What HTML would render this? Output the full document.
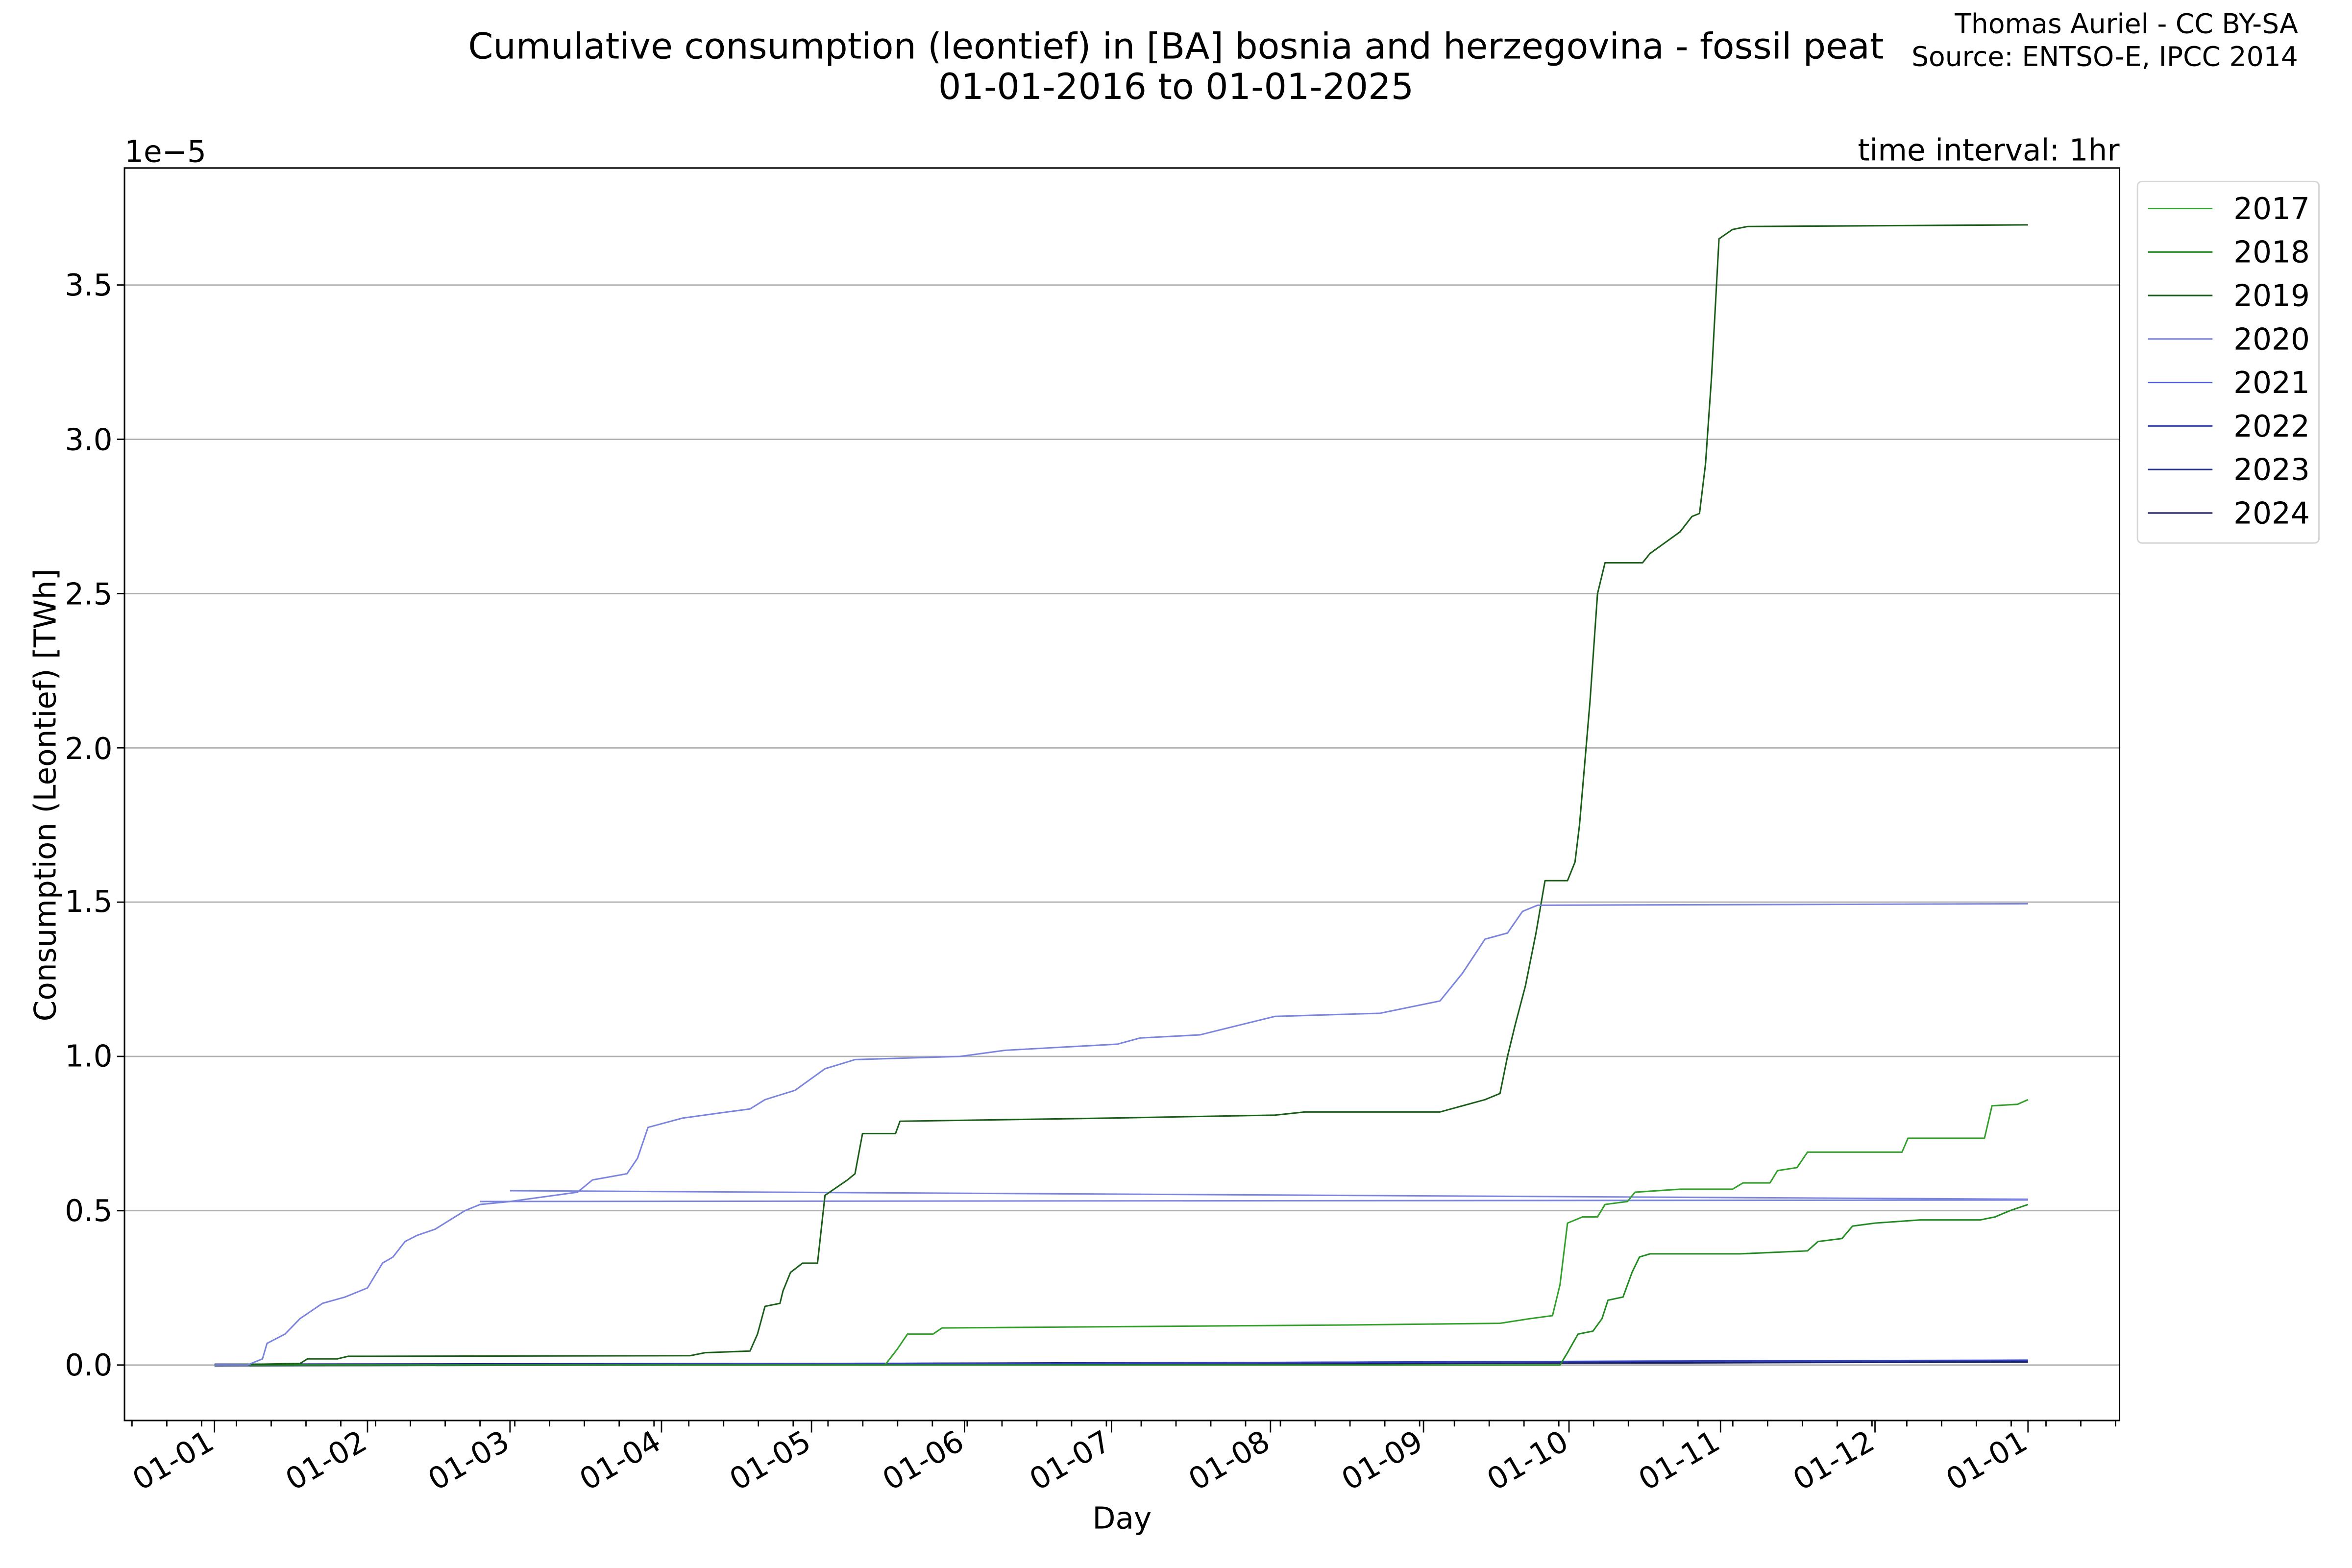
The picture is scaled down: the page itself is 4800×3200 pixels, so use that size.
<!DOCTYPE html>
<html><head><meta charset="utf-8"><style>
html,body{margin:0;padding:0;background:#fff;}
svg{display:block;font-family:"DejaVu Sans","Liberation Sans",sans-serif;}
</style></head><body>
<svg id="s" width="4800" height="3200" viewBox="0 0 1568 1045.33" xmlns="http://www.w3.org/2000/svg">
<rect x="0" y="0" width="1568" height="1046" fill="#fff"/>
<g stroke="#b0b0b0" stroke-width="0.9">
<line x1="83" x2="1413" y1="910" y2="910"/><line x1="83" x2="1413" y1="807.1" y2="807.1"/>
<line x1="83" x2="1413" y1="704.3" y2="704.3"/><line x1="83" x2="1413" y1="601.4" y2="601.4"/>
<line x1="83" x2="1413" y1="498.6" y2="498.6"/><line x1="83" x2="1413" y1="395.7" y2="395.7"/>
<line x1="83" x2="1413" y1="292.9" y2="292.9"/><line x1="83" x2="1413" y1="190" y2="190"/>
</g>
<g id="series" fill="none" stroke-width="1" stroke-linejoin="round"></g>
<rect x="83" y="112" width="1330" height="835" fill="none" stroke="#000" stroke-width="1"/>
<g id="ticks" stroke="#000" stroke-width="0.9"></g>
<g font-size="20" text-anchor="end" fill="#000">
<text x="75" y="917">0.0</text><text x="75" y="814">0.5</text><text x="75" y="711">1.0</text>
<text x="75" y="608">1.5</text><text x="75" y="506">2.0</text><text x="75" y="403">2.5</text>
<text x="75" y="300">3.0</text><text x="75" y="197">3.5</text>
</g>
<g font-size="20" text-anchor="end" fill="#000">
<text transform="translate(144,965) rotate(-30)">01-01</text>
<text transform="translate(246,965) rotate(-30)">01-02</text>
<text transform="translate(341,965) rotate(-30)">01-03</text>
<text transform="translate(442,965) rotate(-30)">01-04</text>
<text transform="translate(542,965) rotate(-30)">01-05</text>
<text transform="translate(644,965) rotate(-30)">01-06</text>
<text transform="translate(742,965) rotate(-30)">01-07</text>
<text transform="translate(848,965) rotate(-30)">01-08</text>
<text transform="translate(950,965) rotate(-30)">01-09</text>
<text transform="translate(1047,965) rotate(-30)">01-10</text>
<text transform="translate(1148,965) rotate(-30)">01-11</text>
<text transform="translate(1251,965) rotate(-30)">01-12</text>
<text transform="translate(1353,965) rotate(-30)">01-01</text>
</g>
<text x="748" y="1019" font-size="20" text-anchor="middle">Day</text>
<text transform="translate(37,530) rotate(-90)" font-size="20" text-anchor="middle">Consumption (Leontief) [TWh]</text>
<text x="83" y="108" font-size="20">1e−5</text>
<text x="1413" y="107" font-size="20" text-anchor="end">time interval: 1hr</text>
<text x="784" y="39" font-size="23.9" text-anchor="middle">Cumulative consumption (leontief) in [BA] bosnia and herzegovina - fossil peat</text>
<text x="784" y="66" font-size="23.9" text-anchor="middle">01-01-2016 to 01-01-2025</text>
<text x="1532" y="22" font-size="18" text-anchor="end">Thomas Auriel - CC BY-SA</text>
<text x="1532" y="44" font-size="18" text-anchor="end">Source: ENTSO-E, IPCC 2014</text>
<rect x="1425" y="121" width="121" height="241" rx="3" fill="#fff" stroke="#d5d5d5" stroke-width="1"/>
<g stroke-width="1">
<line x1="1432" x2="1475" y1="139" y2="139" stroke="#33a02c"/>
<line x1="1432" x2="1475" y1="168" y2="168" stroke="#228b22"/>
<line x1="1432" x2="1475" y1="197" y2="197" stroke="#1a5e1a"/>
<line x1="1432" x2="1475" y1="226" y2="226" stroke="#7b85e0"/>
<line x1="1432" x2="1475" y1="255" y2="255" stroke="#4a58d0"/>
<line x1="1432" x2="1475" y1="284" y2="284" stroke="#3040b8"/>
<line x1="1432" x2="1475" y1="313" y2="313" stroke="#24308a"/>
<line x1="1432" x2="1475" y1="342" y2="342" stroke="#1a2060"/>
</g>
<g font-size="20" fill="#000">
<text x="1489" y="146">2017</text><text x="1489" y="175">2018</text><text x="1489" y="204">2019</text>
<text x="1489" y="233">2020</text><text x="1489" y="262">2021</text><text x="1489" y="291">2022</text>
<text x="1489" y="320">2023</text><text x="1489" y="349">2024</text>
</g>
</svg>
<script>
var NS="http://www.w3.org/2000/svg";
function Y(v){return 910-v*205.7;}
function add(col,pts,w){var p=document.createElementNS(NS,"polyline");p.setAttribute("stroke",col);p.setAttribute("stroke-width",w||1);
p.setAttribute("points",pts.map(function(a){return a[0]+","+Y(a[1]).toFixed(1)}).join(" "));document.getElementById("series").appendChild(p);}
add("#1a2060",[[143,0],[600,0.003],[1000,0.008],[1352,0.012]],2);
add("#3040b8",[[143,0],[700,0.005],[1100,0.012],[1352,0.015]],1.2);
add("#7b85e0",[[320,0.53],[1352,0.535]]);
add("#7b85e0",[[340,0.565],[1352,0.537]]);
add("#33a02c",[[143,0],[590,0],[598,0.05],[605,0.1],[622,0.1],[628,0.12],[900,0.13],[1000,0.135],[1020,0.15],[1035,0.16],[1040,0.26],[1045,0.46],[1055,0.48],[1065,0.48],[1070,0.52],[1085,0.53],[1090,0.56],[1120,0.57],[1155,0.57],[1162,0.59],[1180,0.59],[1185,0.63],[1198,0.64],[1205,0.69],[1268,0.69],[1272,0.735],[1323,0.735],[1328,0.84],[1345,0.845],[1352,0.86]]);
add("#228b22",[[143,0],[1040,0],[1045,0.04],[1052,0.1],[1062,0.11],[1068,0.15],[1072,0.21],[1082,0.22],[1088,0.3],[1093,0.35],[1100,0.36],[1160,0.36],[1205,0.37],[1212,0.4],[1228,0.41],[1235,0.45],[1250,0.46],[1280,0.47],[1320,0.47],[1330,0.48],[1340,0.5],[1352,0.52]]);
add("#1a5e1a",[[143,0],[200,0.005],[205,0.02],[225,0.02],[232,0.028],[460,0.03],[470,0.04],[500,0.045],[505,0.1],[510,0.19],[520,0.2],[522,0.24],[527,0.3],[535,0.33],[545,0.33],[550,0.55],[565,0.6],[570,0.62],[575,0.75],[597,0.75],[600,0.79],[740,0.8],[850,0.81],[870,0.82],[960,0.82],[975,0.84],[990,0.86],[1000,0.88],[1005,1.0],[1010,1.1],[1017,1.23],[1024,1.4],[1030,1.57],[1045,1.57],[1050,1.63],[1053,1.75],[1060,2.15],[1065,2.5],[1070,2.6],[1095,2.6],[1100,2.63],[1120,2.7],[1128,2.75],[1133,2.76],[1137,2.92],[1141,3.2],[1146,3.65],[1155,3.68],[1165,3.69],[1352,3.695]]);
add("#7b85e0",[[143,0],[165,0],[175,0.02],[178,0.07],[190,0.1],[200,0.15],[215,0.2],[230,0.22],[245,0.25],[255,0.33],[262,0.35],[270,0.4],[278,0.42],[290,0.44],[310,0.5],[320,0.52],[340,0.53],[385,0.56],[395,0.6],[418,0.62],[425,0.67],[432,0.77],[455,0.8],[485,0.82],[500,0.83],[510,0.86],[530,0.89],[550,0.96],[570,0.99],[640,1.0],[670,1.02],[745,1.04],[760,1.06],[800,1.07],[825,1.1],[850,1.13],[920,1.14],[960,1.18],[975,1.27],[990,1.38],[1005,1.4],[1015,1.47],[1025,1.49],[1352,1.495]]);
var t=document.getElementById("ticks");
function ln(x1,y1,x2,y2){var l=document.createElementNS(NS,"line");l.setAttribute("x1",x1);l.setAttribute("y1",y1);l.setAttribute("x2",x2);l.setAttribute("y2",y2);t.appendChild(l);}
[143,245,340,441,541,643,741,847,949,1046,1147,1250,1352].forEach(function(x){ln(x,947,x,955);});
for(var x=88;x<1413;x+=23.2){ln(x,947,x,951);}
for(var i=0;i<8;i++){var y=910-i*102.86;ln(78,y,83,y);}
</script>
</body></html>
